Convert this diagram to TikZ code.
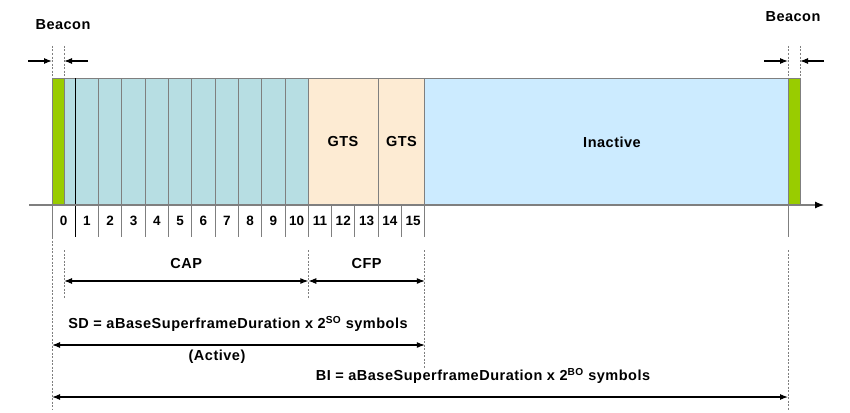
\documentclass[tikz,border=0pt]{standalone}
\usepackage{fontspec}
\setmainfont{Liberation Sans}
\usepackage{xcolor}
\usetikzlibrary{arrows.meta,positioning}

\definecolor{capteal}{HTML}{B7DEE3}
\definecolor{gtspeach}{HTML}{FDEBD3}
\definecolor{inactblue}{HTML}{CCEBFF}
\definecolor{beacongreen}{HTML}{99CC00}
\definecolor{slotgray}{HTML}{7F7F7F}

\begin{document}
\begin{tikzpicture}[
    x=1pt, y=-1pt,
    lbl/.style={font=\bfseries\fontsize{14.5}{16}\selectfont\addfontfeature{LetterSpace=3.5}, inner sep=1pt},
    num/.style={font=\bfseries\fontsize{13.5}{15}\selectfont, inner sep=0pt},
    slotline/.style={draw=slotgray, line width=1pt},
    guide/.style={draw=slotgray, dashed, dash pattern=on 2pt off 1.5pt, line width=0.8pt},
    dimarrow/.style={-{Latex[length=8pt,width=6pt]}, line width=1.1pt},
    dimboth/.style={{Latex[length=8pt,width=6pt]}-{Latex[length=8pt,width=6pt]}, line width=1.1pt}
]
    \useasboundingbox (0,0) rectangle (850,412);

    % superframe blocks
    \fill[capteal] (64,78) rectangle (308.3,205);
    \fill[gtspeach] (308.3,78) rectangle (424.8,205);
    \fill[inactblue] (424.8,78) rectangle (788,205);
    \fill[beacongreen] (52,78) rectangle (64,205);
    \fill[beacongreen] (788,78) rectangle (800,205);
    \draw[slotline] (52,78) rectangle (800,205);
    \draw[slotline] (64,78) -- (64,205);
    \draw[slotline] (788,78) -- (788,205);

    % slot boundaries and numbers
    \foreach \k in {0,...,16} {
        \coordinate (s\k) at ({52+23.3*\k},205);
    }
    \foreach \k in {2,...,11,14,16} {
        \draw[slotline] (s\k) -- ++(0,-127);
    }
    \foreach \k in {0,2,3,...,16} {
        \draw[slotline] (s\k) -- ++(0,32);
    }
    \draw[line width=1.2pt] (75.3,78) -- (75.3,237);
    \draw[slotline] (788,205) -- (788,237);
    \foreach \k [evaluate=\k as \xc using {52+23.3*\k+11.65}] in {0,...,15} {
        \node[num] (n\k) at (\xc,221) {\k};
    }

    % time axis
    \coordinate (axisL) at (29,205);
    \coordinate (axisR) at (824,205);
    \draw[-{Latex[length=9pt,width=7pt,color=black]}, draw=slotgray, line width=1.2pt] (axisL) -- (axisR);

    \node[lbl] (gts1) at (343,142) {GTS};
    \node[lbl] (gts2) at (401.5,142) {GTS};
    \node[lbl] (inactive) at (612,142) {Inactive};

    % beacon markers
    \node[lbl] (beaconL) at (63,25) {Beacon};
    \node[lbl] (beaconR) at (793,17) {Beacon};
    \draw[guide] (52,46) -- (52,78);
    \draw[guide] (64,46) -- (64,78);
    \draw[guide] (788,46) -- (788,78);
    \draw[guide] (800,46) -- (800,78);
    \coordinate (bLa) at (28,61);
    \coordinate (bLb) at (52,61);
    \coordinate (bLc) at (88,61);
    \coordinate (bLd) at (64,61);
    \coordinate (bRa) at (764,61);
    \coordinate (bRb) at (788,61);
    \coordinate (bRc) at (824,61);
    \coordinate (bRd) at (800,61);
    \draw[dimarrow] (bLa) -- (bLb);
    \draw[dimarrow] (bLc) -- (bLd);
    \draw[dimarrow] (bRa) -- (bRb);
    \draw[dimarrow] (bRc) -- (bRd);

    % guides below the axis
    \draw[guide] (52,237) -- (52,410);
    \draw[guide] (64,250) -- (64,298);
    \draw[guide] (308.3,250) -- (308.3,298);
    \draw[guide] (424.8,250) -- (424.8,368);
    \draw[guide] (788,250) -- (788,410);

    % CAP / CFP
    \coordinate (capL) at (64,281);
    \coordinate (capR) at (308.3,281);
    \coordinate (cfpR) at (424.8,281);
    \draw[dimboth] (capL) -- node[lbl, above=11pt] (cap) {CAP} (capR);
    \draw[dimboth] (capR) -- node[lbl, above=11pt] (cfp) {CFP} (cfpR);

    % SD
    \coordinate (sdL) at (52,345);
    \coordinate (sdR) at (424.8,345);
    \node[lbl] (sd) at (238,324) {SD = aBaseSuperframeDuration x 2\textsuperscript{SO} symbols};
    \draw[dimboth] (sdL) -- (sdR);
    \node[lbl] (active) at (217,357) {(Active)};

    % BI
    \coordinate (biL) at (52,397);
    \coordinate (biR) at (788,397);
    \node[lbl] (bi) at (483,376) {BI = aBaseSuperframeDuration x 2\textsuperscript{BO} symbols};
    \draw[dimboth] (biL) -- (biR);
\end{tikzpicture}
\end{document}
